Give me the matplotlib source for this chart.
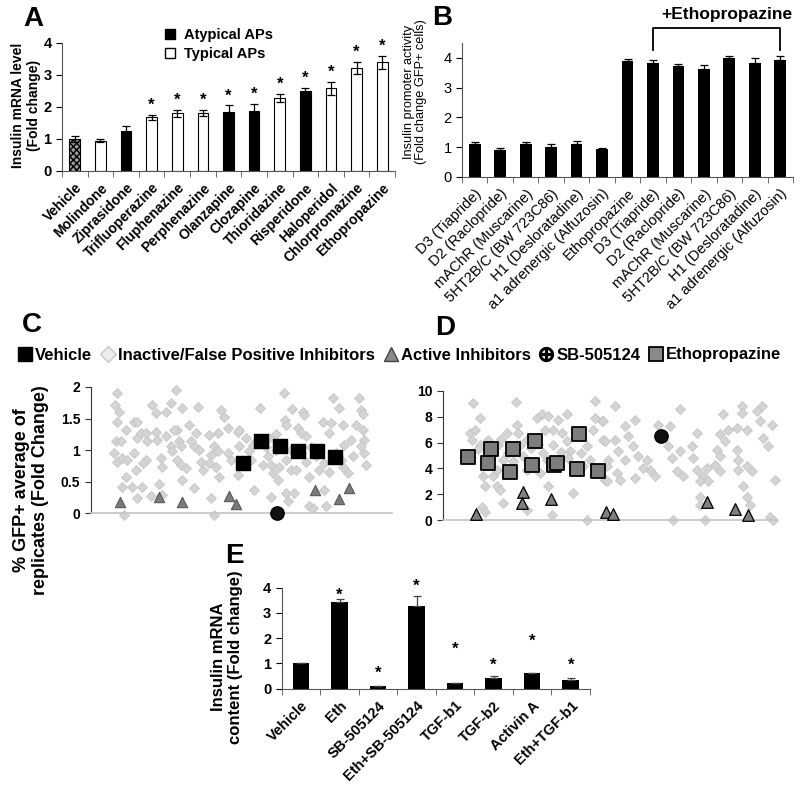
import matplotlib
matplotlib.use("Agg")
import matplotlib.pyplot as plt
import numpy as np
from matplotlib.patches import Patch
from matplotlib.lines import Line2D

plt.rcParams['font.family'] = ['Liberation Sans', 'DejaVu Sans']

# ---------------- Data ----------------
a_labels = ["Vehicle", "Molindone", "Ziprasidone", "Trifluoperazine", "Fluphenazine",
            "Perphenazine", "Olanzapine", "Clozapine", "Thioridazine", "Risperidone",
            "Haloperidol", "Chlorpromazine", "Ethopropazine"]
a_values = [1.00, 0.95, 1.25, 1.68, 1.80, 1.82, 1.85, 1.88, 2.28, 2.50, 2.58, 3.22, 3.40]
a_errors = [0.08, 0.05, 0.17, 0.08, 0.12, 0.10, 0.20, 0.22, 0.12, 0.10, 0.20, 0.18, 0.20]
a_type = ["vehicle", "typical", "atypical", "typical", "typical", "typical", "atypical",
          "atypical", "typical", "atypical", "typical", "typical", "typical"]
a_star = [False, False, False, True, True, True, True, True, True, True, True, True, True]

b_labels = ["D3 (Tiapride)", "D2 (Raclopride)", "mAChR (Muscarine)", "5HT2B/C (BW 723C86)",
            "H1 (Desloratadine)", "a1 adrenergic (Alfuzosin)", "Ethopropazine",
            "D3 (Tiapride)", "D2 (Raclopride)", "mAChR (Muscarine)", "5HT2B/C (BW 723C86)",
            "H1 (Desloratadine)", "a1 adrenergic (Alfuzosin)"]
b_values = [1.10, 0.90, 1.12, 1.00, 1.10, 0.95, 3.88, 3.82, 3.72, 3.62, 3.98, 3.83, 3.92]
b_errors = [0.07, 0.06, 0.05, 0.10, 0.10, 0.02, 0.07, 0.10, 0.07, 0.15, 0.08, 0.15, 0.15]

c_inactive_x = [26.7, 24.3, 28.3, 26, 35, 43.3, 46, 25, 30, 23, 26.7, 31, 36.7, 35, 31.7, 41.7, 51.7,
                43, 46, 50, 55, 56.7, 55, 52, 45, 46.7, 33.3, 61.7, 65, 75, 80, 85, 91.7, 106.7,
                98.3, 86.7, 83, 65, 66.7, 75, 80, 88, 90, 81.7, 70, 71.7, 86.7, 90, 95, 91.7,
                68.3, 71.7, 60.7, 103.3, 103.3, 100, 108.3, 105, 110, 111.7, 118.3, 120, 123.3,
                126.7, 130, 133.3, 136.7, 126.7, 125, 118, 128.3, 120, 123.3, 136.7, 146.7, 140,
                146.7, 192.7, 169, 201, 211.7, 213, 194, 195, 148.3, 206.7, 210, 215, 231.7, 240,
                251.7, 241.7, 248.3, 268.3, 270, 272, 265, 238.3, 253.3, 260, 271.7, 273.3, 270,
                273.3, 275, 161.7, 158, 160, 171.7, 176.7, 180, 181.7, 186.7, 188.3, 195, 200,
                205, 215, 218.3, 228.3, 233.3, 238.3, 251.7, 256.7, 163.3, 180, 195, 196.7,
                203.3, 233.3, 218.3, 222.3, 235, 148.3, 155, 165, 175, 185, 190, 200, 210, 220,
                225, 245, 250, 262, 185, 178]
c_inactive_y = [1.91, 1.72, 1.61, 1.44, 1.32, 1.44, 1.44, 1.14, 1.14, 0.95, 0.82, 0.88, 0.85, 0.58,
                0.42, 0.42, 0.42, 0.95, 1.20, 1.27, 1.27, 1.14, 0.85, 0.80, 0.69, 0.24, -0.03,
                1.72, 1.59, 1.61, 1.75, 1.95, 1.67, 1.69, 1.40, 1.32, 1.32, 1.29, 1.16, 1.22,
                1.06, 1.14, 1.06, 0.98, 0.87, 0.74, 0.85, 0.77, 0.71, 0.53, 0.47, 0.29, 0.28,
                0.40, 1.06, 1.14, 1.01, 1.27, 0.82, 0.69, 1.24, 0.93, 1.06, 1.27, 1.64, 1.53,
                1.35, 0.98, 0.74, 0.79, 0.58, 0.24, -0.03, 0.95, 1.29, 0.85, 0.61, 1.90, 1.67,
                1.65, 1.61, 1.55, 1.48, 1.40, 1.32, 1.35, 1.27, 1.22, 1.44, 1.43, 1.40, 1.83,
                1.67, 1.83, 1.64, 1.58, 1.40, 1.27, 1.08, 1.16, 1.32, 1.16, 1.06, 0.95, 0.77,
                1.08, 0.98, 0.85, 0.77, 0.90, 0.77, 0.64, 0.53, 0.74, 0.85, 0.69, 0.69, 0.82,
                0.58, 0.69, 0.79, 0.66, 0.74, 0.64, 0.37, 0.26, 0.32, 0.19, 0.32, 0.37, 0.11,
                0.08, 0.11, 1.06, 1.20, 1.15, 1.05, 1.00, 1.10, 1.00, 0.95, 1.05, 0.90, 0.95,
                0.85, 0.90, 1.25, 1.20]
c_active_x = [29, 68.7, 91.7, 138.3, 145, 224.3, 247.7, 258.3]
c_active_y = [0.18, 0.26, 0.18, 0.27, 0.15, 0.37, 0.22, 0.40]
c_vehicle_x = [152.3, 170, 188.7, 207, 226, 244]
c_vehicle_y = [0.79, 1.15, 1.06, 0.99, 0.98, 0.89]
c_sb_x = [186]
c_sb_y = [0.01]

d_inactive_x = [29.7, 37, 27, 28.7, 32, 37, 40.3, 42, 50.3, 53.7, 57, 38.7, 42, 60.3, 73, 73.7, 75.3,
                63.7, 77, 83.7, 93.7, 98.7, 105.3, 102, 110.3, 115.3, 123.7, 118.7, 123.7, 127,
                100.3, 103.7, 105.3, 108.7, 83.7, 60.3, 53.7, 83.7, 97, 130.3, 143.7, 152, 152,
                158.7, 150.3, 160.3, 165.3, 162, 143.7, 147,
                172, 160.3, 182, 192, 162, 172, 175.3, 185.3, 190.3, 195.3, 182, 163.7, 173.7,
                177, 163.7, 192, 203.7, 207, 212, 200.3, 215.3, 227, 237, 225.3, 228.7, 237,
                233.7, 240.3, 248.7, 253.7, 250.3, 253.7, 260.3, 263.7, 257, 265.3, 257, 257,
                262, 230.3, 273.7, 277, 282, 280.3, 285.3, 293.7, 303.7, 298.7, 298.7, 313.7,
                318.7, 317, 328.7, 320.3, 325.3, 277, 272, 277, 293.7, 295.3, 303.7, 308.7,
                295.3, 300.3, 303.7, 307, 332, 327, 330.3,
                35, 45, 55, 65, 80, 88, 95, 110, 118, 125, 138, 140, 58, 70]
d_inactive_y = [9.04, 7.93, 6.76, 6.24, 7.01, 5.85, 3.38, 2.60, 3.38, 2.60, 2.34, 1.04, 0.65, 1.30,
                9.14, 7.40, 6.76, 6.76, 5.85, 6.24, 7.93, 8.19, 8.06, 7.01, 7.01, 7.79, 8.19,
                6.76, 6.11, 5.33, 5.20, 4.68, 2.60, 0.39, 0.78, 4.68, 3.90, 3.90, 3.64, 2.08,
                0.0, 9.22, 7.93, 7.66, 7.01, 6.24, 4.68, 3.12, 5.72, 4.68,
                8.83, 7.66, 7.27, 7.79, 6.11, 6.24, 5.33, 6.50, 5.72, 4.94, 4.68, 4.16, 3.64,
                3.12, 2.99, 3.25, 4.68, 3.90, 3.38, 4.03, 7.40, 7.27, 8.57, 5.72, 4.81, 5.33,
                3.77, 3.38, 5.72, 6.76, 4.81, 3.90, 3.38, 4.03, 2.99, 2.99, 1.82, 1.17, 0.0,
                0.0, 5.46, 6.63, 6.11, 8.19, 7.01, 7.14, 7.01, 8.83, 8.32, 8.45, 8.83, 7.66,
                7.40, 6.37, 5.72, 4.94, 4.29, 3.77, 5.46, 4.68, 4.16, 3.77, 3.90, 2.60, 1.82,
                1.17, 3.12, 0.26, 0.0,
                5.5, 6.2, 5.8, 5.2, 5.0, 5.6, 5.9, 5.8, 5.3, 4.8, 5.2, 4.2, 6.3, 4.6]
d_active_x = [33, 79.7, 79, 107.7, 162.7, 170.3, 263.7, 292, 305.3]
d_active_y = [0.44, 2.2, 1.35, 1.61, 0.65, 0.44, 1.38, 0.83, 0.39]
d_etho_x = [25.3, 47.7, 44.7, 69.7, 67, 92, 89.3, 111, 113.7, 136, 133.7, 155.3]
d_etho_y = [4.86, 5.51, 4.42, 5.53, 3.69, 6.10, 4.23, 4.23, 4.40, 6.68, 3.95, 3.82]
d_sb_x = [218]
d_sb_y = [6.55]

e_labels = ["Vehicle", "Eth", "SB-505124", "Eth+SB-505124", "TGF-b1", "TGF-b2", "Activin A", "Eth+TGF-b1"]
e_values = [1.02, 3.45, 0.10, 3.28, 0.22, 0.42, 0.62, 0.35]
e_errors = [0.01, 0.12, 0.01, 0.40, 0.01, 0.08, 0.01, 0.07]
e_star_y = [None, 3.71, 0.63, 4.04, 1.56, 0.94, 1.86, 0.94]

# ---------------- Figure ----------------
W, H = 800, 793
fig = plt.figure(figsize=(W / 100, H / 100), dpi=100)

def ax_px(left, right, top, bottom):
    return fig.add_axes([left / W, 1 - bottom / H, (right - left) / W, (bottom - top) / H])

def ftext(x, y, s, **kw):
    return fig.text(x / W, 1 - y / H, s, **kw)

def cat_axis(ax, n, labels, fs, weight):
    ax.set_xlim(-0.5, n - 0.5)
    ax.set_xticks(np.arange(n))
    ax.set_xticklabels(labels, rotation=45, ha='right', rotation_mode='anchor',
                       fontsize=fs, fontweight=weight)
    ax.tick_params(axis='x', length=0, pad=7)
    ax.set_xticks(np.arange(-0.5, n, 1), minor=True)
    ax.tick_params(axis='x', which='minor', length=4, direction='out', color='#555555')
    for s in ['top', 'right']:
        ax.spines[s].set_visible(False)
    ax.spines['bottom'].set_color('#555555')
    ax.spines['left'].set_color('#555555')

# ---- Panel A ----
axA = ax_px(62, 395, 43, 171)
xa = np.arange(len(a_values))
for i, (v, e, t) in enumerate(zip(a_values, a_errors, a_type)):
    if t == 'vehicle':
        axA.bar(i, v, width=0.42, color='#9a9a9a', edgecolor='black', hatch='xxxxx', lw=0.8)
    elif t == 'atypical':
        axA.bar(i, v, width=0.42, color='black', edgecolor='black', lw=0.8)
    else:
        axA.bar(i, v, width=0.42, color='white', edgecolor='black', lw=0.8)
axA.errorbar(xa, a_values, yerr=a_errors, fmt='none', ecolor='black', elinewidth=0.9, capsize=3, capthick=0.9)
for i, (v, e, s) in enumerate(zip(a_values, a_errors, a_star)):
    if s:
        axA.text(i, v + e + 0.3, '*', ha='center', va='center', fontsize=12, fontweight='bold')
axA.set_ylim(0, 4)
axA.set_yticks([0, 1, 2, 3, 4])
axA.tick_params(axis='y', labelsize=10.5, length=4)
for lb in axA.get_yticklabels():
    lb.set_fontweight('bold')
cat_axis(axA, len(a_values), a_labels, 10, 'bold')
ftext(26, 105, "Insulin mRNA level\n(Fold change)", rotation=90, ha='center', va='center',
      fontsize=10, fontweight='bold', linespacing=1.1)
axA.legend(handles=[Patch(facecolor='black', edgecolor='black', label='Atypical APs'),
                    Patch(facecolor='white', edgecolor='black', label='Typical APs')],
           loc='upper left', bbox_to_anchor=(0.27, 1.22), frameon=False,
           prop=dict(weight='bold', size=10.5), handlelength=0.7, handleheight=0.7,
           handletextpad=0.6, labelspacing=0.35)
ftext(23, 19, 'A', fontsize=20, fontweight='bold', va='center')

# ---- Panel B ----
axB = ax_px(462, 793, 43, 177)
xb = np.arange(len(b_values))
axB.bar(xb, b_values, width=0.46, color='black')
axB.errorbar(xb, b_values, yerr=[np.zeros(len(b_errors)), b_errors], fmt='none', ecolor='black',
             elinewidth=0.9, capsize=3, capthick=0.9)
axB.set_ylim(0, 4.5)
axB.set_yticks([0, 1, 2, 3, 4])
axB.tick_params(axis='y', labelsize=10.5, length=4)
cat_axis(axB, len(b_values), b_labels, 10.5, 'normal')
ftext(415, 92, "Insulin promoter activity\n(Fold change GFP+ cells)", rotation=90, ha='center',
      va='center', fontsize=9.2, linespacing=1.1)
axB.plot([7, 7, 12, 12], [4.28, 5.02, 5.02, 4.28], color='black', lw=1.3, clip_on=False)
axB.text(9.9, 5.46, '+Ethopropazine', ha='center', va='center', fontsize=12.5, fontweight='bold')
ftext(432, 18, 'B', fontsize=20, fontweight='bold', va='center')

# ---- Scatter panels ----
def scatter_axis(ax, xmax, ymax, yticks, ytl):
    ax.set_xlim(0, xmax)
    ax.set_ylim(0, ymax)
    ax.set_xticks([])
    ax.set_yticks(yticks)
    ax.set_yticklabels(ytl, fontsize=10, fontweight='bold')
    ax.tick_params(axis='y', length=4, color='#333333')
    for s in ['top', 'right']:
        ax.spines[s].set_visible(False)
    ax.spines['bottom'].set_color('#c4c4c4')
    ax.spines['bottom'].set_linewidth(1.2)
    ax.spines['left'].set_color('#333333')

gray_kw = dict(marker='D', s=26, c='#d4d4d4', edgecolors='#c6c6c6', linewidths=0.6, clip_on=False, zorder=2)

axC = ax_px(90.7, 392, 387, 513.3)
scatter_axis(axC, 301, 2, [0, 0.5, 1, 1.5, 2], ['0', '0.5', '1', '1.5', '2'])
axC.scatter(c_inactive_x, c_inactive_y, **gray_kw)
axC.scatter(c_active_x, c_active_y, marker='^', s=55, c='#7a7a7a', edgecolors='#5a5a5a', linewidths=0.8, zorder=3, clip_on=False)
axC.scatter(c_vehicle_x, c_vehicle_y, marker='s', s=90, c='black', zorder=4, clip_on=False)
axC.scatter(c_sb_x, c_sb_y, marker='o', s=92, c='#111111', edgecolors='black', zorder=5, clip_on=False)
ftext(22, 325, 'C', fontsize=20, fontweight='bold', va='center')
ftext(31, 490, "% GFP+ average of\nreplicates (Fold Change)", rotation=90,
      fontsize=13, fontweight='bold', ha='center', va='center', linespacing=1.1)

axD = ax_px(443, 777, 391, 520)
scatter_axis(axD, 334, 10, [0, 2, 4, 6, 8, 10], ['0', '2', '4', '6', '8', '10'])
axD.scatter(d_inactive_x, d_inactive_y, **gray_kw)
axD.scatter(d_active_x, d_active_y, marker='^', s=70, c='#808080', edgecolors='black', linewidths=0.9, zorder=3, clip_on=False)
axD.scatter(d_etho_x, d_etho_y, marker='s', s=92, c='#7d7d7d', edgecolors='black', linewidths=1.3, zorder=4, clip_on=False)
axD.scatter(d_sb_x, d_sb_y, marker='o', s=92, c='#111111', edgecolors='black', zorder=5, clip_on=False)
ftext(435, 328, 'D', fontsize=20, fontweight='bold', va='center')

# legend row for C/D
handles = [Line2D([], [], ls='none', marker='s', ms=10, mfc='black', mec='black', label='Vehicle'),
           Line2D([], [], ls='none', marker='D', ms=8, mfc='#ececec', mec='#c8c8c8', label='Inactive/False Positive Inhibitors'),
           Line2D([], [], ls='none', marker='^', ms=10, mfc='#8a8a8a', mec='#444444', label='Active Inhibitors'),
           Line2D([], [], ls='none', marker='$\u2295$', ms=10, mfc='black', mec='black', label='SB-505124'),
           Line2D([], [], ls='none', marker='s', ms=10, mfc='#8a8a8a', mec='black', mew=1.3, label='Ethopropazine')]
fig.legend(handles=handles, loc='center', bbox_to_anchor=(0.5, 1 - 355 / H), ncol=5, frameon=False,
           prop=dict(weight='bold', size=12), handlelength=0.8, handletextpad=0.2, columnspacing=0.55,
           borderaxespad=0)

# ---- Panel E ----
axE = ax_px(281.7, 590, 587.7, 688.7)
xe = np.arange(len(e_values))
axE.bar(xe, e_values, width=0.43, color='black')
axE.errorbar(xe, e_values, yerr=[np.zeros(len(e_errors)), e_errors], fmt='none', ecolor='#444444',
             elinewidth=0.9, capsize=3, capthick=0.9)
for i, sy in enumerate(e_star_y):
    if sy is not None:
        axE.text(i, sy, '*', ha='center', va='center', fontsize=12, fontweight='bold')
axE.set_ylim(0, 4)
axE.set_yticks([0, 1, 2, 3, 4])
axE.tick_params(axis='y', labelsize=10.5, length=4)
for lb in axE.get_yticklabels():
    lb.set_fontweight('bold')
cat_axis(axE, len(e_values), e_labels, 10.5, 'bold')
ftext(227, 657, "Insulin mRNA\ncontent (Fold change)", rotation=90, ha='center', va='center',
      fontsize=12, fontweight='bold', linespacing=1.1)
ftext(225, 556, 'E', fontsize=20, fontweight='bold', va='center')

fig.savefig('out.png', dpi=100)
